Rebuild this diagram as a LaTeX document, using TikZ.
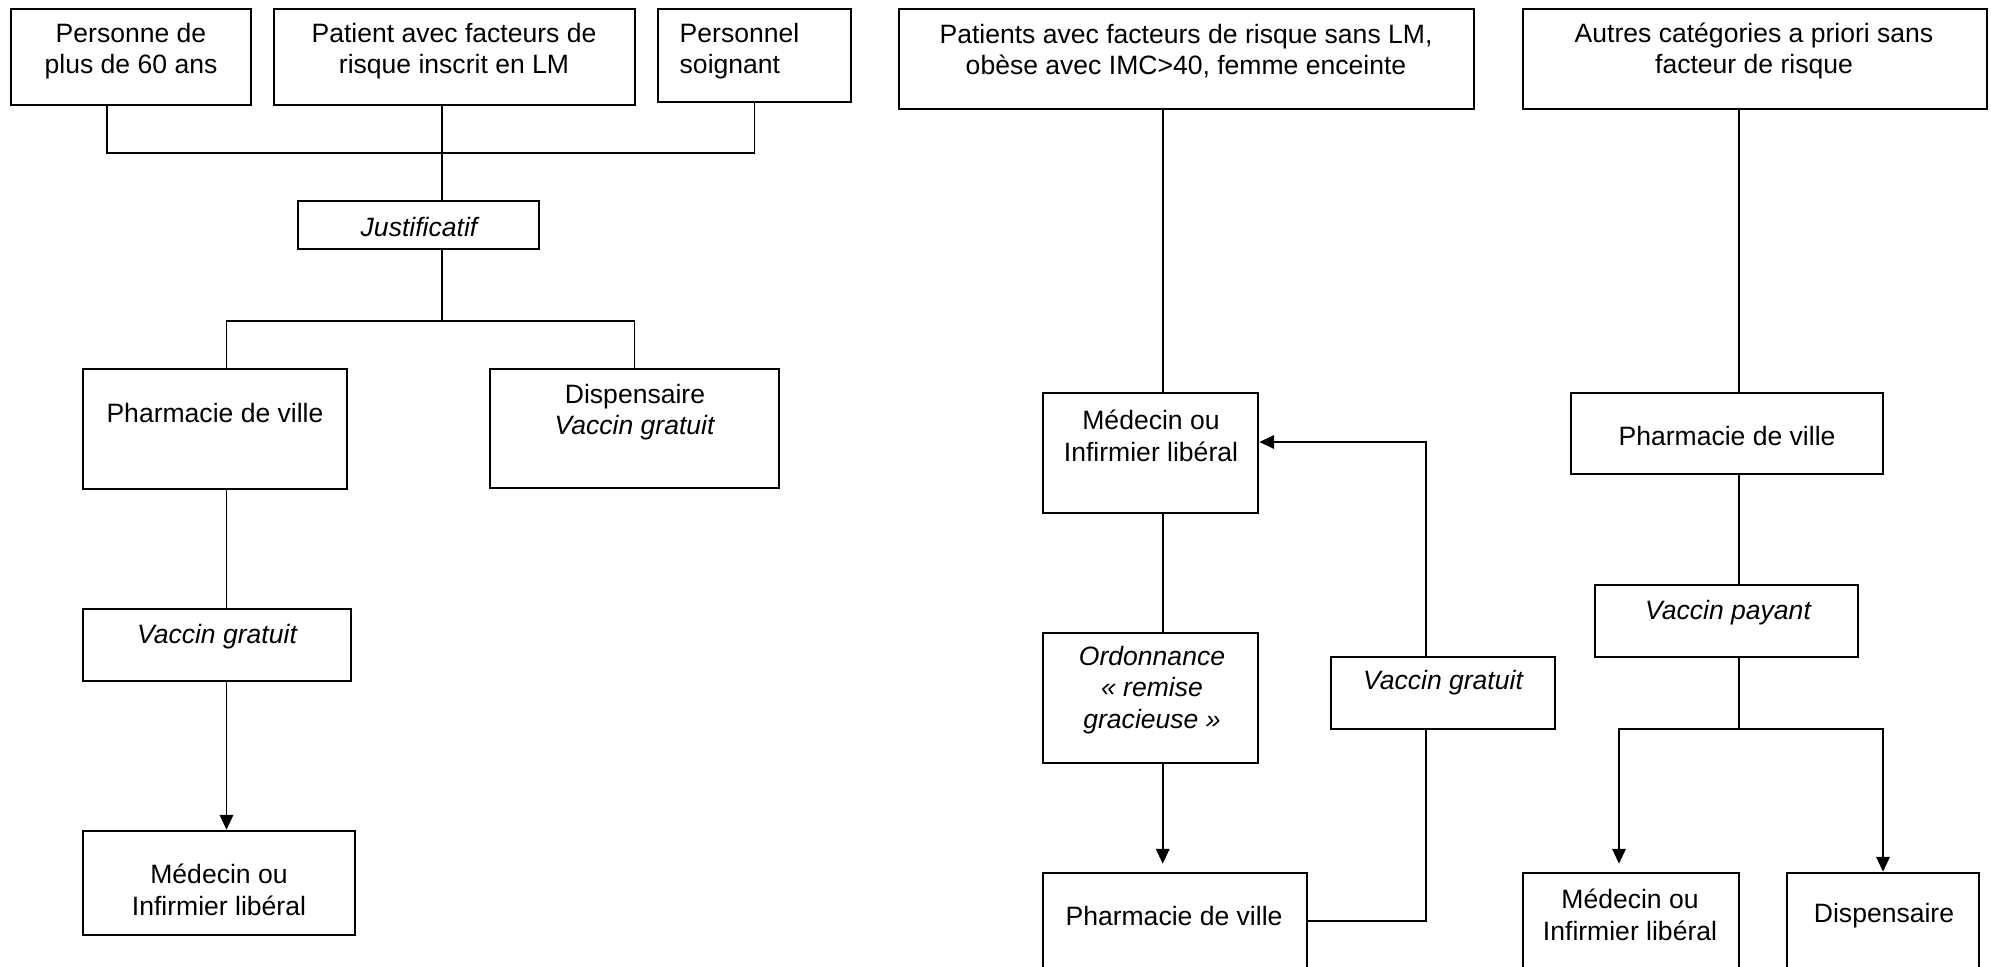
\documentclass[tikz,border=0pt]{standalone}
\usepackage{fontspec}
\setmainfont{Liberation Sans}
\usetikzlibrary{arrows.meta,fit}

\begin{document}
\begin{tikzpicture}[x=0.01cm,y=-0.01cm,>={Triangle[length=4.2pt,width=3.8pt]},
    font=\fontsize{7.55pt}{9pt}\selectfont,
    box/.style={draw,line width=0.75pt,inner sep=0pt},
    txt/.style={align=center,inner sep=0pt},
    itxt/.style={txt,font=\fontsize{7.55pt}{9pt}\selectfont\itshape},
    link/.style={line width=0.55pt},
    flow/.style={line width=0.55pt,->}]
                \useasboundingbox (0,0) rectangle (1991,966);
                % premier groupe
                \node[box,fit={(11,9) (251,105)}] (ageA) {};
                \node[box,fit={(274,9) (635,105)}] (riskLM) {};
                \node[box,fit={(658,9) (851,102)}] (staff) {};
                \node[box,fit={(298,201) (539,249)}] (justif) {};
                \node[box,fit={(83,369) (347,489)}] (pharmA) {};
                \node[box,fit={(490,369) (779,488)}] (dispA) {};
                \node[box,fit={(83,609) (351,681)}] (freeA) {};
                \node[box,fit={(83,831) (355,935)}] (medA) {};
                \node[txt] at (131,51) {Personne de\\plus de 60 ans};
                \node[txt] at (454,51) {Patient avec facteurs de\\risque inscrit en LM};
                \node[txt,anchor=west,align=left] at (679,51) {Personnel\\soignant};
                \node[itxt] at (419,227) {Justificatif};
                \node[txt] at (215,413) {Pharmacie de ville};
                \node[txt] at (635,412) {Dispensaire\\\textit{Vaccin gratuit}};
                \node[itxt] at (217,637) {Vaccin gratuit};
                \node[txt] at (219,890) {Médecin ou\\Infirmier libéral};
                % second groupe
                \node[box,fit={(899,9) (1474,109)}] (riskNo) {};
                \node[box,fit={(1043,393) (1258,513)}] (medB) {};
                \node[box,fit={(1043,633) (1258,763)}] (ordo) {};
                \node[box,fit={(1331,657) (1555,729)}] (freeB) {};
                \node[box,fit={(1043,873) (1307,969)}] (pharmC) {};
                \node[txt] at (1186,51) {Patients avec facteurs de risque sans LM,\\obèse avec IMC>40, femme enceinte};
                \node[txt] at (1151,436) {Médecin ou\\Infirmier libéral};
                \node[itxt] at (1152,690) {Ordonnance\\« remise\\gracieuse »};
                \node[itxt] at (1443,683) {Vaccin gratuit};
                \node[txt] at (1174,916) {Pharmacie de ville};
                % troisieme groupe
                \node[box,fit={(1523,9) (1987,109)}] (other) {};
                \node[box,fit={(1571,393) (1883,474)}] (pharmB) {};
                \node[box,fit={(1595,585) (1858,657)}] (pay) {};
                \node[box,fit={(1523,873) (1739,969)}] (medC) {};
                \node[box,fit={(1787,873) (1979,969)}] (dispC) {};
                \node[txt] at (1754,51) {Autres catégories a priori sans\\facteur de risque};
                \node[txt] at (1727,436) {Pharmacie de ville};
                \node[itxt] at (1728,613) {Vaccin payant};
                \node[txt] at (1630,915) {Médecin ou\\Infirmier libéral};
                \node[txt] at (1884,916) {Dispensaire};
                % points de raccord
                \coordinate (busA) at (442,153);
                \coordinate (splitA) at (442,321);
                \coordinate (colA) at (226.5,0);
                \coordinate (colB) at (1162.7,0);
                \coordinate (turnB) at (1426.3,442);
                \coordinate (colD) at (1738.7,0);
                \coordinate (splitD) at (1738.7,729);
                \coordinate (colE) at (1619,0);
                % liaisons
                \draw[link] ([xshift=-0.24cm]ageA.south) |- (busA) -| (staff.south);
                \draw[link] (riskLM.south -| busA) -- (justif.north -| busA);
                \draw[link] (justif.south -| busA) -- (splitA);
                \draw[link] (pharmA.north -| colA) |- (splitA) -| (dispA.north);
                \draw[link] (pharmA.south -| colA) -- (freeA.north -| colA);
                \draw[flow] (freeA.south -| colA) -- (medA.north -| colA);
                \draw[link] (riskNo.south -| colB) -- (medB.north -| colB);
                \draw[link] (medB.south -| colB) -- (ordo.north -| colB);
                \draw[flow,shorten >=0.08cm] (ordo.south -| colB) -- (pharmC.north -| colB);
                \draw[link] (pharmC.east) -| (freeB.south -| turnB);
                \draw[flow] (freeB.north -| turnB) -- (turnB) -- (medB.east |- turnB);
                \draw[link] (other.south -| colD) -- (pharmB.north -| colD);
                \draw[link] (pharmB.south -| colD) -- (pay.north -| colD);
                \draw[link] (pay.south -| splitD) -- (splitD);
                \draw[flow,shorten >=0.08cm] (splitD) -| (medC.north -| colE);
                \draw[flow] (splitD) -| (dispC.north);
            \end{tikzpicture}
\end{document}
